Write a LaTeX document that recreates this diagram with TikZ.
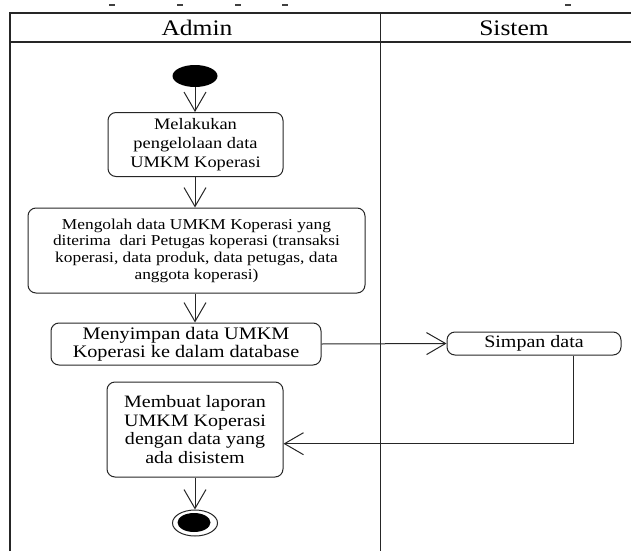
\documentclass[tikz,border=0pt]{standalone}
\usepackage{fontspec}
\setmainfont[FakeStretch=1.15]{Liberation Serif}
\usetikzlibrary{shapes.geometric,arrows.meta}
\begin{document}
\begin{tikzpicture}[x=1pt,y=-1pt,
  lane/.style={draw=black!85,line width=1.1pt},
  act/.style={draw=black!85,line width=1pt,rounded corners=8pt,align=center,
    inner sep=0pt,font=\fontsize{17.4}{18.9}\selectfont},
  flow/.style={draw=black!85,line width=1pt,
    -{Straight Barb[length=19pt,width=22pt,line width=1pt]}},
  head/.style={font=\fontsize{22.2}{24}\selectfont,inner sep=0pt},
  topdash/.style={fill=black!75}
]
\useasboundingbox (0,0) rectangle (631,551);

% swimlane frame
\draw[lane] (10,551) -- (10,13) -- (631,13);
\draw[lane] (10,42) -- (631,42);
\draw[lane] (380.5,13) -- (380.5,551);
\node[head] (hadmin) at (197,28) {Admin};
\node[head] (hsistem) at (514,28) {Sistem};

% clipped marks along the top edge
\foreach \x in {112,180,238,285,568}
  \fill[topdash] (\x-3,4) rectangle (\x+3,6);

% column axis of the Admin lane
\coordinate (axis) at (195,0);

% start and final nodes
\node[ellipse,fill=black,minimum width=45pt,minimum height=22pt,inner sep=0pt] (start) at (195,76) {};
\node[ellipse,draw=black!85,line width=1pt,minimum width=45pt,minimum height=26pt,inner sep=0pt] (final) at (195,523) {};
\node[ellipse,fill=black,minimum width=33pt,minimum height=19pt,inner sep=0pt] (finalcore) at (194,522.5) {};

% activities
\node[act,minimum width=175pt,minimum height=64pt,font=\fontsize{16}{19}\selectfont] (a1) at (195.5,144.5)
  {Melakukan\\pengelolaan data\\UMKM Koperasi};
\node[act,minimum width=337pt,minimum height=85pt,font=\fontsize{15.1}{16.7}\selectfont] (a2) at (196.5,250.5)
  {Mengolah data UMKM Koperasi yang\\diterima\ \ dari Petugas koperasi (transaksi\\koperasi, data produk, data petugas, data\\anggota koperasi)};
\node[act,minimum width=270pt,minimum height=42pt,font=\fontsize{17.6}{18.3}\selectfont] (a3) at (186,344)
  {Menyimpan data UMKM\\Koperasi ke dalam database};
\node[act,minimum width=174pt,minimum height=23pt] (simpan) at (534,343.5) {Simpan data};
\node[act,minimum width=176pt,minimum height=95pt] (a4) at (195,429.5)
  {Membuat laporan\\UMKM Koperasi\\dengan data yang\\ada disistem};

% control flow
\coordinate (turn) at (573.5,443.7);
\draw[flow] (start.south -| axis) -- (a1.north -| axis);
\draw[flow] (a1.south -| axis) -- (a2.north -| axis);
\draw[flow] (a2.south -| axis) -- (a3.north -| axis);
\draw[flow] (a3.east) -- (simpan.west);
\draw[flow] (simpan.south -| turn) -- (turn) -- (turn -| a4.east);
\draw[flow] (a4.south -| axis) -- (final.north -| axis);
\end{tikzpicture}
\end{document}
